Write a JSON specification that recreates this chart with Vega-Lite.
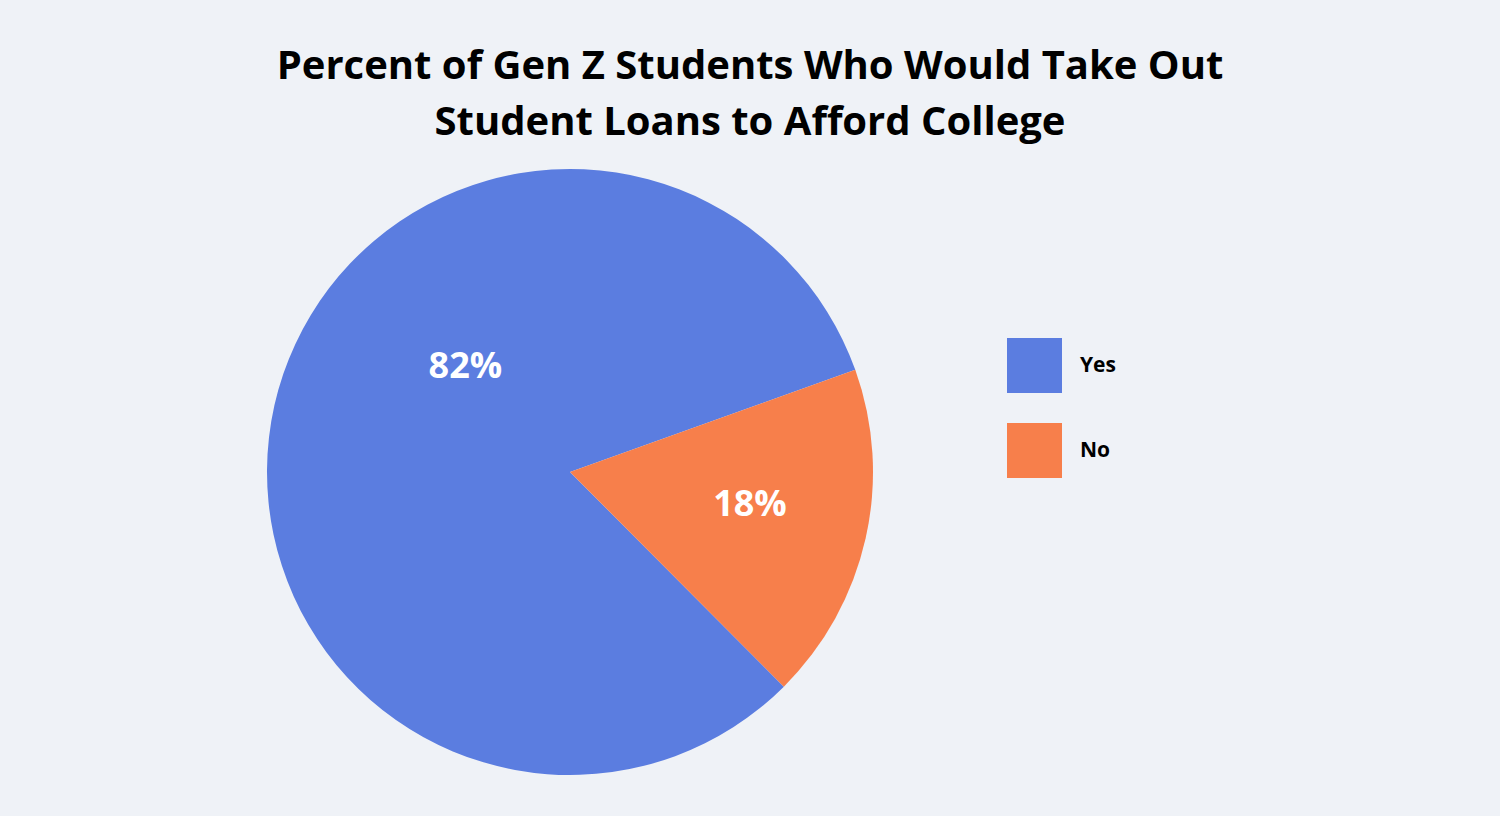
{
  "$schema": "https://vega.github.io/schema/vega-lite/v6.json",
  "width": 1140,
  "height": 606,
  "autosize": {"type": "none"},
  "padding": {"left": 0, "top": 169, "right": 360, "bottom": 41},
  "background": "#EFF2F7",
  "config": {"view": {"stroke": null}, "font": "Open Sans"},
  "title": {
    "text": ["Percent of Gen Z Students Who Would Take Out", "Student Loans to Afford College"],
    "fontSize": 40,
    "fontWeight": "bold",
    "color": "#000000",
    "lineHeight": 56,
    "anchor": "middle",
    "dx": 180,
    "offset": 26
  },
  "data": {
    "values": [
      {"answer": "Yes", "share": 0.82},
      {"answer": "No", "share": 0.18}
    ]
  },
  "encoding": {
    "theta": {"field": "share", "type": "quantitative", "stack": true, "scale": {"range": [1.227, 7.5102]}},
    "order": {"field": "answer", "sort": "ascending"}
  },
  "layer": [
    {
      "mark": {"type": "arc"},
      "encoding": {
        "color": {
          "field": "answer",
          "type": "nominal",
          "scale": {"domain": ["Yes", "No"], "range": ["#5B7DE0", "#F77F4B"]},
          "legend": {
            "title": null,
            "orient": "none",
            "legendX": 1007,
            "legendY": 169,
            "symbolType": "square",
            "symbolSize": 3025,
            "symbolStrokeWidth": 0,
            "symbolOpacity": 1,
            "rowPadding": 30,
            "labelFontSize": 21,
            "labelFontWeight": "bold",
            "labelColor": "#000000",
            "labelOffset": 18,
            "labelFont": "Open Sans"
          }
        }
      }
    },
    {
      "mark": {
        "type": "text",
        "fontSize": 36,
        "fontWeight": "bold",
        "color": "#FFFFFF",
        "thetaOffset": {"expr": "datum.answer === 'Yes' ? 0.564 : -0.04"},
        "radius": {"expr": "datum.answer === 'Yes' ? 148 : 183"}
      },
      "encoding": {
        "text": {"field": "share", "type": "quantitative", "format": ".0%"},
        "detail": {"field": "answer", "type": "nominal"}
      }
    }
  ]
}
